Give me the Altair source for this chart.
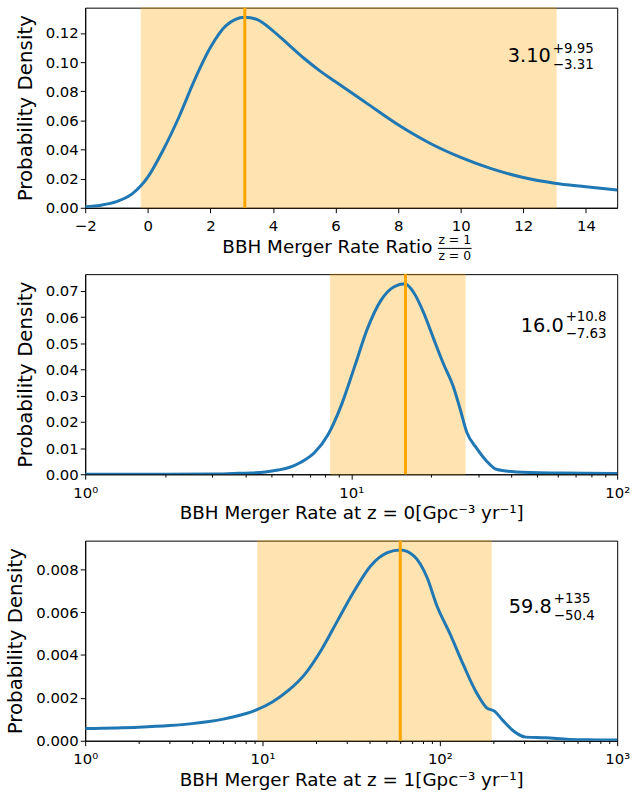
import altair as alt
import pandas as pd

# Posterior densities of the three BBH merger-rate quantities
ratio_x = [-2.0, -1.5, -1.0, -0.5, 0.0, 0.5, 1.0, 1.5, 2.0, 2.5, 3.1, 3.5, 4.0, 4.5,
           5.0, 5.5, 6.0, 7.0, 8.0, 9.0, 10.0, 11.0, 12.0, 13.0, 14.0, 15.0]
ratio_pdf = [0.0007, 0.0018, 0.0042, 0.0095, 0.021, 0.040, 0.0625, 0.088, 0.110, 0.125,
             0.1308, 0.1292, 0.1215, 0.112, 0.1025, 0.094, 0.0865, 0.0717, 0.057,
             0.0445, 0.0346, 0.0267, 0.0208, 0.0169, 0.0145, 0.0122]
ratio_median, ratio_plus, ratio_minus = 3.10, 9.95, 3.31

r0_x = [1.0, 2.0, 3.0, 3.6, 4.2, 4.75, 5.3, 5.8, 6.5, 7.3, 8.2, 9.2, 10.3, 11.5, 12.9,
        14.5, 15.9, 17.2, 18.7, 20.4, 22.2, 24.2, 25.6, 27.2, 29.6, 32.2, 35.1, 41.7,
        55.6, 75.0, 100.0]
r0_pdf = [0.0, 0.00002, 0.0001, 0.0003, 0.0005, 0.0009, 0.0016, 0.0025, 0.0047, 0.0084,
          0.0153, 0.0266, 0.0411, 0.0555, 0.0662, 0.0716, 0.0727, 0.0693, 0.0618, 0.0518,
          0.0423, 0.0335, 0.0254, 0.0160, 0.0100, 0.0052, 0.0019, 0.0009, 0.0005, 0.0004,
          0.0003]
r0_median, r0_plus, r0_minus = 16.0, 10.8, 7.63

r1_x = [1.0, 2.0, 3.0, 4.0, 5.0, 6.0, 7.0, 8.0, 9.3, 11.3, 14.0, 17.3, 21.5, 26.6, 33.0,
        40.8, 50.6, 59.8, 71.3, 84.6, 96.2, 114.0, 135.6, 161.0, 183.0, 204.0, 227.0,
        258.0, 306.0, 396.0, 535.0, 750.0, 1000.0]
r1_pdf = [0.00057, 0.00063, 0.00071, 0.0008, 0.0009, 0.00101, 0.00113, 0.00126, 0.00145,
          0.0018, 0.00235, 0.0031, 0.00425, 0.00563, 0.00701, 0.00817, 0.00878, 0.0089,
          0.00863, 0.00763, 0.0063, 0.0050, 0.00355, 0.00224, 0.00155, 0.00137, 0.00094,
          0.00048, 0.00017, 0.00014, 0.00006, 0.00004, 0.00003]
r1_median, r1_plus, r1_minus = 59.8, 135.0, 50.4

W, H = 537, 202
BLUE = "#1f77b4"
ORANGE = "orange"
FONT = "DejaVu Sans"

LOG_TICKS = [m * 10 ** e for e in range(0, 3) for m in range(1, 10)] + [1000]
SUPERS = {1: "10\u2070", 10: "10\u00b9", 100: "10\u00b2", 1000: "10\u00b3"}


def sig3(v):
    return f"{v:#.3g}".rstrip(".")


def log_axis(title, top):
    vals = [v for v in LOG_TICKS if v <= top]
    expr = " : ".join(f"datum.value == {k} ? '{s}'" for k, s in SUPERS.items()) + " : ''"
    return alt.Axis(
        title=title, values=vals, labelExpr=expr, labelFlush=False, labelOverlap=False,
        tickSize={"condition": {"test": "indexof([1, 10, 100, 1000], datum.value) >= 0",
                                "value": 5}, "value": 2.8},
    )


def panel(xs, pdf, median, plus, minus, x_scale, x_axis, y_scale, y_axis, ann, extra=()):
    curve = pd.DataFrame({"x": xs, "pdf": pdf})
    stats = pd.DataFrame({
        "median": [median], "lo": [median - minus], "hi": [median + plus],
        "main": [sig3(median)], "sup": ["+" + sig3(plus)], "sub": ["\u2212" + sig3(minus)],
    })
    band = alt.Chart(stats).mark_rect(
        color=ORANGE, opacity=0.3, stroke=ORANGE, strokeWidth=1
    ).encode(x=alt.X("lo:Q", scale=x_scale, axis=x_axis), x2="hi:Q")
    line = alt.Chart(curve).mark_line(
        color=BLUE, strokeWidth=3, interpolate="monotone", clip=True
    ).encode(
        x=alt.X("x:Q", scale=x_scale, axis=x_axis),
        y=alt.Y("pdf:Q", scale=y_scale, axis=y_axis),
    )
    med = alt.Chart(stats).mark_rule(color=ORANGE, strokeWidth=3).encode(
        x=alt.X("median:Q", scale=x_scale, axis=x_axis)
    )
    ax, ay_main, ay_sup, ay_sub = ann
    main = alt.Chart(stats).mark_text(
        align="right", baseline="alphabetic", fontSize=19.5, font=FONT, color="black"
    ).encode(x=alt.value(ax), y=alt.value(ay_main), text="main:N")
    sup = alt.Chart(stats).mark_text(
        align="left", baseline="alphabetic", fontSize=13.5, font=FONT, color="black"
    ).encode(x=alt.value(ax + 2), y=alt.value(ay_sup), text="sup:N")
    sub = alt.Chart(stats).mark_text(
        align="left", baseline="alphabetic", fontSize=13.5, font=FONT, color="black"
    ).encode(x=alt.value(ax + 2), y=alt.value(ay_sub), text="sub:N")
    return alt.layer(band, line, med, main, sup, sub, *extra).properties(width=W, height=H)


def y_axis(top, step, fmt):
    n = int(round(top / step))
    return alt.Axis(title="Probability Density", values=[round(i * step, 6) for i in range(n + 1)],
                    format=fmt)


# Top panel: ratio, with a stacked z=1 / z=0 fraction after the axis title
ratio_axis = alt.Axis(title="BBH Merger Rate Ratio", values=list(range(-2, 15, 2)),
                      titleX=350, titleAlign="right", labelFlush=False)
frac = pd.DataFrame({"num": ["z = 1"], "den": ["z = 0"]})
frac_num = alt.Chart(frac).mark_text(
    fontSize=12.5, font=FONT, baseline="alphabetic", align="center", color="black"
).encode(x=alt.value(373), y=alt.value(239), text="num:N")
frac_den = alt.Chart(frac).mark_text(
    fontSize=12.5, font=FONT, baseline="alphabetic", align="center", color="black"
).encode(x=alt.value(373), y=alt.value(255), text="den:N")
frac_bar = alt.Chart(frac).mark_rule(color="black", strokeWidth=1).encode(
    x=alt.value(356), x2=alt.value(390), y=alt.value(243)
)

p1 = panel(
    ratio_x, ratio_pdf, ratio_median, ratio_plus, ratio_minus,
    alt.Scale(domain=[-2, 15], nice=False, zero=False), ratio_axis,
    alt.Scale(domain=[0, 0.1374], nice=False), y_axis(0.12, 0.02, ".2f"),
    (470, 55, 46, 62), extra=(frac_num, frac_den, frac_bar),
)

p2 = panel(
    r0_x, r0_pdf, r0_median, r0_plus, r0_minus,
    alt.Scale(type="log", domain=[1, 100], nice=False),
    log_axis("BBH Merger Rate at z = 0[Gpc\u207b\u00b3 yr\u207b\u00b9]", 100),
    alt.Scale(domain=[0, 0.0764], nice=False), y_axis(0.07, 0.01, ".2f"),
    (483, 58, 47, 64),
)

p3 = panel(
    r1_x, r1_pdf, r1_median, r1_plus, r1_minus,
    alt.Scale(type="log", domain=[1, 1000], nice=False),
    log_axis("BBH Merger Rate at z = 1[Gpc\u207b\u00b3 yr\u207b\u00b9]", 1000),
    alt.Scale(domain=[0, 0.00934], nice=False), y_axis(0.008, 0.002, ".3f"),
    (471, 73, 63, 80),
)

chart = (
    alt.vconcat(p1, p2, p3, spacing=67, bounds="flush")
    .properties(padding={"left": 5, "top": 2, "right": 5, "bottom": 0})
    .configure_view(stroke="black", strokeWidth=1)
    .configure_axis(
        labelFont=FONT, titleFont=FONT, labelFontSize=15,
        titleFontWeight="normal", labelColor="black", titleColor="black",
        tickColor="black", domainColor="black", grid=False, tickSize=5,
    )
    .configure_axisX(labelPadding=6, titlePadding=4, titleFontSize=18.5)
    .configure_axisY(labelPadding=2, titlePadding=10, titleFontSize=20)
)

chart.save("out.html", embed_options={"renderer": "svg", "actions": False})
